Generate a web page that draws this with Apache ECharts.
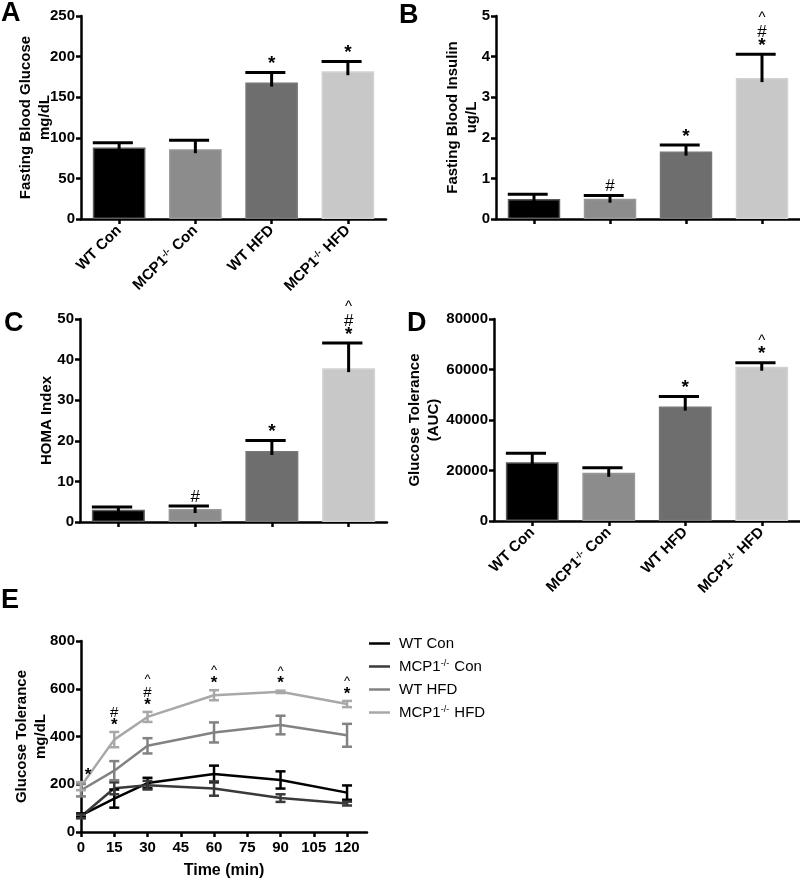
<!DOCTYPE html>
<html><head><meta charset="utf-8">
<script src="https://cdn.jsdelivr.net/npm/echarts@6/dist/echarts.min.js"></script>
<style>html,body{margin:0;padding:0;background:#fff}#c{width:800px;height:880px}</style>
</head><body><div id="c"></div>
<script>
// ---------- DATA ----------
const groups = ['WT Con', 'MCP1-/- Con', 'WT HFD', 'MCP1-/- HFD'];

const glucoseMean = [88, 86, 168, 182];
const glucoseSem = [6, 11, 12.5, 12];
const glucoseMarks = ['', '', '*', '*'];

const insulinMean = [0.49, 0.5, 1.66, 3.47];
const insulinSem = [0.12, 0.08, 0.16, 0.59];
const insulinMarks = ['', '#', '*', '*#^'];

const homaMean = [3.0, 3.2, 17.5, 37.9];
const homaSem = [0.7, 0.75, 2.6, 6.2];
const homaMarks = ['', '#', '*', '*#^'];

const aucMean = [23300, 19100, 45300, 61100];
const aucSem = [3500, 2000, 4000, 1600];
const aucMarks = ['', '', '*', '*^'];

const timePoints = [0, 15, 30, 60, 90, 120];
const timeTicks = [0, 15, 30, 45, 60, 75, 90, 105, 120];
const wtConMean = [70, 140, 205, 243, 218, 165];
const wtConSem = [8, 38, 22, 35, 36, 30];
const koConMean = [65, 183, 196, 182, 142, 119];
const koConSem = [8, 25, 18, 30, 16, 8];
const wtHfdMean = [175, 257, 361, 417, 448, 405];
const wtHfdSem = [26, 40, 32, 42, 39, 48];
const koHfdMean = [192, 387, 482, 573, 587, 536];
const koHfdSem = [17, 32, 21, 21, 5, 13];
const timeMarks = ['*', '*#', '*#^', '*^', '*^', '*^'];

// ---------- STYLE ----------
const FONT = 'Liberation Sans, Arial, sans-serif';
const barFill = ['#000000', '#8c8c8c', '#6e6e6e', '#c8c8c8'];
const barEdge = ['#5a5a5a', '#979797', '#777777', '#d2d2d2'];
const lineColors = ['#000000', '#3a3a3a', '#828282', '#a8a8a8'];

const chart = echarts.init(document.getElementById('c'), null, {renderer: 'canvas'});

const supFmt = v => String(v).replace('-/-', '{sup|-/-}');
const labelRich = {sup: {fontSize: 9, fontWeight: 'bold', fontFamily: FONT, color: '#000', verticalAlign: 'top', padding: [0, 1, 6, 0]}};

function axisBase() {
  return {
    axisLine: {show: true, lineStyle: {color: '#000', width: 2.5}},
    axisTick: {show: true, length: 5, lineStyle: {color: '#000', width: 2.5}},
    axisLabel: {color: '#000', fontWeight: 'bold', fontSize: 15, fontFamily: FONT, margin: 6},
    splitLine: {show: false},
    nameMoveOverlap: false,
    nameTextStyle: {color: '#000', fontWeight: 'bold', fontSize: 15, fontFamily: FONT, lineHeight: 19}
  };
}

function catAxis(idx, showLabels) {
  const a = axisBase();
  return Object.assign(a, {
    type: 'category', gridIndex: idx, data: groups,
    axisTick: Object.assign(a.axisTick, {alignWithLabel: true}),
    axisLabel: Object.assign(a.axisLabel, {show: showLabels, rotate: 45, margin: 9, interval: 0, formatter: supFmt, rich: labelRich})
  });
}
function valAxis(idx, max, interval, name, gap) {
  const a = axisBase();
  return Object.assign(a, {
    type: 'value', gridIndex: idx, min: 0, max: max, interval: interval,
    name: name, nameLocation: 'middle', nameRotate: 90, nameGap: gap,
    axisLabel: Object.assign(a.axisLabel, {formatter: v => String(v)})
  });
}

const markRich = {
  s: {fontSize: 19, fontWeight: 'bold', fontFamily: FONT, color: '#000', lineHeight: 13},
  h: {fontSize: 17, fontFamily: FONT, color: '#000', lineHeight: 14},
  c: {fontSize: 15, fontFamily: FONT, color: '#000', lineHeight: 14}
};
function markText(mk) {
  return mk.split('').reverse().map(ch => ch === '*' ? '{s|*}' : ch === '#' ? '{h|#}' : '{c|^}').join('\n');
}

function barSeries(idx, means) {
  return {
    type: 'bar', xAxisIndex: idx, yAxisIndex: idx, barWidth: '69%', z: 2,
    data: means.map((m, i) => ({value: m, itemStyle: {color: barFill[i], borderColor: barEdge[i], borderWidth: 1.5}})),
    animation: false
  };
}
function barErr(idx, means, sems, marks) {
  return {
    type: 'custom', xAxisIndex: idx, yAxisIndex: idx, z: 5, animation: false,
    data: means.map((m, i) => [i, m, sems[i]]),
    renderItem(params, api) {
      const i = api.value(0), m = api.value(1), s = api.value(2);
      const base = api.coord([i, m]);
      const top = api.coord([i, m + s]);
      const bw = api.size([1, 0])[0];
      const ch = [
        {type: 'line', shape: {x1: base[0], y1: base[1] + 4, x2: top[0], y2: top[1]}, style: {stroke: '#000', lineWidth: 3}},
        {type: 'line', shape: {x1: top[0] - bw * 0.345, y1: top[1], x2: top[0] + bw * 0.18, y2: top[1]}, style: {stroke: '#000', lineWidth: 3}}
      ];
      const mk = marks[params.dataIndex];
      if (mk) {
        ch.push({type: 'text', x: top[0], y: top[1] - 2, style: {text: markText(mk), rich: markRich, align: 'center', verticalAlign: 'bottom'}});
      }
      return {type: 'group', children: ch};
    }
  };
}

function lineSeries(name, means, color) {
  return {
    type: 'line', name: name, xAxisIndex: 4, yAxisIndex: 4, symbol: 'none', showSymbol: false, z: 3, animation: false,
    data: timePoints.map((t, i) => [t, means[i]]),
    lineStyle: {color: color, width: 2.5}, itemStyle: {color: color}
  };
}
function lineErr(means, sems, color, marks) {
  return {
    type: 'custom', xAxisIndex: 4, yAxisIndex: 4, z: 4, animation: false,
    data: timePoints.map((t, i) => [t, means[i], sems[i]]),
    renderItem(params, api) {
      const t = api.value(0), m = api.value(1), s = api.value(2);
      const hi = api.coord([t, m + s]);
      const lo = api.coord([t, m - s]);
      const st = {stroke: color, lineWidth: 2.5};
      const ch = [
        {type: 'line', shape: {x1: hi[0], y1: hi[1], x2: lo[0], y2: lo[1]}, style: st},
        {type: 'line', shape: {x1: hi[0] - 5, y1: hi[1], x2: hi[0] + 5, y2: hi[1]}, style: st},
        {type: 'line', shape: {x1: lo[0] - 5, y1: lo[1], x2: lo[0] + 5, y2: lo[1]}, style: st}
      ];
      if (marks) {
        const mk = marks[params.dataIndex];
        const dx = params.dataIndex === 0 ? 7 : 0;
        ch.push({type: 'text', x: hi[0] + dx, y: hi[1] - 1, style: {text: markText(mk), rich: {
          s: {fontSize: 17, fontWeight: 'bold', fontFamily: FONT, color: '#000', lineHeight: 12},
          h: {fontSize: 15, fontFamily: FONT, color: '#000', lineHeight: 13},
          c: {fontSize: 13, fontFamily: FONT, color: '#000', lineHeight: 13}
        }, align: 'center', verticalAlign: 'bottom'}});
      }
      return {type: 'group', children: ch};
    }
  };
}

const xE = axisBase();
Object.assign(xE, {
  type: 'value', gridIndex: 4, min: 0, max: 129,
  axisTick: Object.assign(xE.axisTick, {customValues: timeTicks}),
  axisLabel: Object.assign(xE.axisLabel, {customValues: timeTicks, margin: 8}),
  name: 'Time (min)', nameLocation: 'middle', nameGap: 31,
  nameTextStyle: {color: '#000', fontWeight: 'bold', fontSize: 16, fontFamily: FONT}
});

const letter = (t, x, y) => ({type: 'text', left: x, top: y, style: {text: t, font: 'bold 27px ' + FONT, fill: '#000'}});

const option = {
  backgroundColor: '#fff',
  animation: false,
  grid: [
    {left: 81, top: 16, width: 305, height: 203},
    {left: 496, top: 16, width: 304, height: 203},
    {left: 80, top: 319, width: 307, height: 203},
    {left: 494, top: 319, width: 306, height: 202},
    {left: 81, top: 641, width: 286, height: 191}
  ],
  xAxis: [catAxis(0, true), catAxis(1, false), catAxis(2, false), catAxis(3, true), xE],
  yAxis: [
    valAxis(0, 250, 50, 'Fasting Blood Glucose\nmg/dL', 27),
    valAxis(1, 5, 1, 'Fasting Blood Insulin\nug/L', 15),
    valAxis(2, 50, 10, 'HOMA Index', 24),
    valAxis(3, 80000, 20000, 'Glucose Tolerance\n(AUC)', 51),
    valAxis(4, 800, 200, 'Glucose Tolerance\nmg/dL', 31)
  ],
  legend: {
    orient: 'vertical', left: 364, top: 631, itemWidth: 21, itemHeight: 2.5, itemGap: 8, icon: 'rect',
    data: ['WT Con', 'MCP1-/- Con', 'WT HFD', 'MCP1-/- HFD'],
    formatter: supFmt,
    textStyle: {color: '#000', fontSize: 15, fontFamily: FONT, padding: [0, 0, 0, 4], lineHeight: 15,
      rich: {sup: {fontSize: 9, fontFamily: FONT, color: '#000', verticalAlign: 'top', padding: [0, 1, 6, 0]}}}
  },
  graphic: [letter('A', 1, 0), letter('B', 399, 2), letter('C', 4, 310), letter('D', 407, 310), letter('E', 1, 587)],
  series: [
    barSeries(0, glucoseMean), barErr(0, glucoseMean, glucoseSem, glucoseMarks),
    barSeries(1, insulinMean), barErr(1, insulinMean, insulinSem, insulinMarks),
    barSeries(2, homaMean), barErr(2, homaMean, homaSem, homaMarks),
    barSeries(3, aucMean), barErr(3, aucMean, aucSem, aucMarks),
    lineSeries('WT Con', wtConMean, lineColors[0]), lineErr(wtConMean, wtConSem, lineColors[0], null),
    lineSeries('MCP1-/- Con', koConMean, lineColors[1]), lineErr(koConMean, koConSem, lineColors[1], null),
    lineSeries('WT HFD', wtHfdMean, lineColors[2]), lineErr(wtHfdMean, wtHfdSem, lineColors[2], null),
    lineSeries('MCP1-/- HFD', koHfdMean, lineColors[3]), lineErr(koHfdMean, koHfdSem, lineColors[3], timeMarks)
  ]
};
chart.setOption(option);
</script>
</body></html>
